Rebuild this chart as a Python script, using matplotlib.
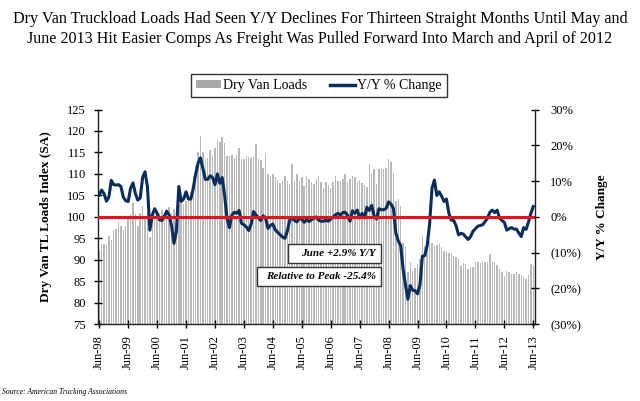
import numpy as np
import matplotlib
matplotlib.use("Agg")
import matplotlib.pyplot as plt
from matplotlib.patches import Rectangle, Patch
from matplotlib.lines import Line2D

plt.rcParams['font.family'] = ['Liberation Serif', 'DejaVu Serif']

# monthly, Jun-98 .. Jun-13
tick_labels = ['Jun-98', 'Jun-99', 'Jun-00', 'Jun-01', 'Jun-02', 'Jun-03', 'Jun-04', 'Jun-05',
               'Jun-06', 'Jun-07', 'Jun-08', 'Jun-09', 'Jun-10', 'Jun-11', 'Jun-12', 'Jun-13']

# dry van TL loads index (SA)
loads = [92.1, 93.8, 93.8, 93.4, 95.6, 94.7, 96.9, 97.1, 98.7, 97.9, 96.9, 97.9,
         99.8, 100.6, 103.3, 100.6, 97.9, 100.8, 102.6, 99.5, 101.4, 95.3, 101.0, 100.4,
         101.4, 100.8, 101.5, 100.5, 101.8, 102.2, 101.0, 101.8, 102.5, 103.0, 103.5, 103.0,
         103.7, 104.5, 105.7, 109.5, 112.0, 115.0, 118.8, 115.0, 113.4, 113.8, 115.5, 114.5,
         116.0, 118.0, 117.5, 118.7, 117.3, 114.2, 114.2, 114.4, 113.8, 114.5, 116.1, 113.4,
         113.4, 114.2, 114.0, 113.8, 114.0, 116.9, 113.4, 113.2, 111.5, 114.6, 109.9, 109.5,
         109.9, 109.2, 108.6, 108.0, 108.4, 109.5, 108.4, 107.6, 112.3, 108.4, 109.9, 108.4,
         109.2, 107.2, 109.5, 108.8, 108.2, 107.6, 108.8, 109.5, 108.2, 106.8, 108.2, 107.4,
         106.8, 108.2, 109.5, 108.4, 108.4, 108.8, 109.9, 108.2, 108.8, 109.5, 109.2, 108.2,
         108.6, 107.8, 107.4, 107.0, 112.3, 109.9, 111.1, 107.6, 111.1, 111.1, 111.1, 111.5,
         113.4, 112.8, 110.3, 103.7, 104.1, 102.6, 94.0, 92.9, 87.1, 89.4, 87.4, 88.2,
         89.0, 90.2, 95.6, 93.3, 94.5, 94.4, 94.0, 93.3, 93.5, 93.7, 92.9, 92.1,
         92.0, 91.7, 91.3, 90.9, 90.6, 90.2, 88.6, 89.2, 89.0, 87.8, 88.3, 88.4,
         89.4, 89.4, 89.2, 89.8, 89.4, 89.4, 91.3, 89.4, 89.4, 88.8, 87.8, 87.1,
         86.3, 87.4, 87.2, 86.7, 86.8, 87.2, 86.7, 86.5, 85.9, 85.5, 86.4, 89.0, 88.6]

# y/y % change
yoy = [6.1, 7.5, 6.5, 4.4, 5.5, 10.2, 9.0, 8.9, 9.0, 8.5, 5.5, 4.5,
       4.3, 8.0, 9.5, 6.5, 4.7, 5.3, 11.0, 12.6, 8.4, -3.7, 0.5, 2.3,
       1.0, -0.8, -1.0, 0.2, 1.6, 0.5, -2.5, -7.4, -4.0, 8.5, 4.3, 5.0,
       7.0, 5.0, 5.0, 8.0, 12.0, 15.0, 16.5, 13.5, 10.5, 10.5, 11.5, 11.0,
       9.0, 12.0, 9.4, 11.0, 6.0, -0.5, -3.0, 0.5, 1.3, 1.0, 1.8, -1.8,
       -2.2, -2.8, -3.8, -2.0, 1.5, 0.5, -0.2, -1.0, 0.3, -0.5, -3.2, -2.4,
       -2.0, -3.6, -4.3, -5.0, -5.6, -6.0, -4.0, -0.9, -0.2, -1.0, -1.4, -0.3,
       -0.7, -1.5, -0.8, -1.3, -0.8, -0.4, 0.0, -0.9, -1.2, -1.2, -0.9, -1.2,
       -0.6, 0.0, 0.6, 1.0, 0.5, 1.2, 1.3, 0.5, -1.2, 1.7, 1.0, 1.9,
       -0.3, 1.0, -0.3, 2.7, 1.8, 3.2, 0.3, -0.6, 2.3, 2.0, 2.0, 2.4,
       4.2, 3.6, 2.4, -4.5, -6.7, -8.0, -14.5, -19.0, -23.0, -19.2, -20.5, -20.6,
       -21.5, -19.0, -11.0, -10.8, -8.0, -2.0, 8.0, 10.3, 6.0, 7.0, 5.8, 4.3,
       5.0, 1.0, -0.9, -1.0, -2.5, -5.0, -4.6, -4.8, -5.6, -6.3, -5.5, -4.0,
       -3.3, -2.6, -2.4, -2.2, -1.3, -0.4, 1.3, 1.9, 1.2, 1.9, -0.3, -1.0,
       -1.5, -3.7, -3.3, -3.0, -3.4, -3.4, -4.5, -5.5, -3.0, -3.5, -1.5, 1.0, 2.9]

navy = '#0b2d5c'
bar_col = '#b9b9b9'

x = np.arange(len(loads))

fig = plt.figure(figsize=(6.4, 4.01), dpi=100)
ax = fig.add_axes([0.1539, 0.1913, 0.682, 0.5356])

ax.bar(x, np.array(loads) - 75, bottom=75, width=0.6, color=bar_col, linewidth=0)
ax.set_ylim(75, 125)
ax.set_xlim(-0.3, 180.7)
ax.set_yticks(range(75, 126, 5))
ax.set_xticks(x[::12])
ax.set_xticklabels(tick_labels, rotation=90)
ax.tick_params(axis='both', direction='inout', length=6, width=1, labelsize=9, colors='black')
ax.tick_params(axis='y', pad=6)
ax.tick_params(axis='x', pad=5)
ax.spines['top'].set_visible(False)
ax.spines['right'].set_visible(False)
for s in ['left', 'bottom']:
    ax.spines[s].set_linewidth(1)
    ax.spines[s].set_color('#222222')
ax.set_ylabel('Dry Van TL Loads Index (SA)', fontsize=9.5, fontweight='bold', labelpad=11)

ax2 = ax.twinx()
ax2.plot(x, yoy, color=navy, lw=2.2, solid_joinstyle='round', zorder=3)
ax2.axhline(0, color='#e3121b', lw=2.2, zorder=4)
ax2.set_ylim(-30, 30)
ax2.set_yticks(range(-30, 31, 10))
ax2.set_yticklabels(['(30%)', '(20%)', '(10%)', '0%', '10%', '20%', '30%'])
ax2.tick_params(axis='y', direction='inout', length=6, width=1, labelsize=9, pad=8)
ax2.spines['top'].set_visible(False)
ax2.spines['left'].set_visible(False)
ax2.spines['bottom'].set_visible(False)
ax2.spines['right'].set_linewidth(1)
ax2.spines['right'].set_color('#222222')
ax2.set_ylabel('Y/Y % Change', fontsize=9.5, fontweight='bold', rotation=90, labelpad=11)

fig.text(0.5, 0.928, 'Dry Van Truckload Loads Had Seen Y/Y Declines For Thirteen Straight Months Until May and\n'
         'June 2013 Hit Easier Comps As Freight Was Pulled Forward Into March and April of 2012',
         ha='center', va='center', fontsize=11.6, linespacing=1.3)

handles = [Patch(facecolor='#a9a9a9', edgecolor='none'), Line2D([], [], color=navy, lw=2.5)]
fig.legend(handles, ['Dry Van Loads', 'Y/Y % Change'], loc='center', bbox_to_anchor=(0.498, 0.786),
           ncol=2, frameon=True, fancybox=False, edgecolor='black', fontsize=10,
           handlelength=1.8, handleheight=0.5, columnspacing=1.6, handletextpad=0.2,
           borderpad=0.35).get_frame().set_linewidth(1)

# annotation boxes
fig.add_artist(Rectangle((0.4505, 0.3434), 0.1444, 0.0481, transform=fig.transFigure,
                         facecolor='white', edgecolor='#333333', lw=1, zorder=5))
fig.add_artist(Rectangle((0.4011, 0.2868), 0.1938, 0.0481, transform=fig.transFigure,
                         facecolor='white', edgecolor='#333333', lw=1, zorder=5))
fig.text(0.587, 0.3674, 'June +2.9% Y/Y', ha='right', va='center', fontsize=8,
         fontweight='bold', style='italic', zorder=6)
fig.text(0.587, 0.3108, 'Relative to Peak -25.4%', ha='right', va='center', fontsize=8,
         fontweight='bold', style='italic', zorder=6)

fig.text(0.003, 0.013, 'Source: American Trucking Associations', fontsize=5.5, style='italic',
         ha='left', va='bottom')

fig.savefig('out.png', dpi=100)
